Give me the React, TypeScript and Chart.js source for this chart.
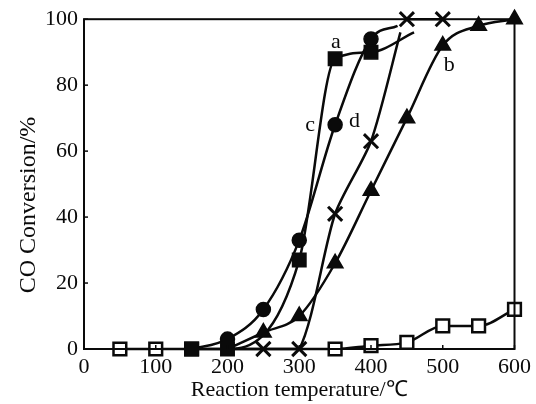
import React, { useEffect, useRef } from "react";
import { Chart, registerables } from "chart.js";

Chart.register(...registerables);

// filled squares (last point = unmarked curve end)
const filledSquareX = [150, 200, 300, 350, 400, 460];
const filledSquareY = [0, 0, 27, 88, 90, 96];
// filled circles
const circleX = [150, 200, 250, 300, 350, 400, 437];
const circleY = [0, 3, 12, 33, 68, 94, 98];
// crosses (null = break in the curve)
const crossX = [200, 250, 300, 350, 400, 441, 445, 450, 500];
const crossY: (number | null)[] = [0, 0, 0, 41, 63, 96, null, 100, 100];
// filled triangles
const triangleX = [200, 250, 300, 350, 400, 450, 500, 550, 600];
const triangleY = [0, 5, 10, 26, 48, 70, 92, 98, 100];
// open squares
const openSquareX = [50, 100, 150, 200, 250, 300, 350, 400, 450, 500, 550, 600];
const openSquareY = [0, 0, 0, 0, 0, 0, 0, 1, 2, 7, 7, 12];

// curve labels
const curveLabels = ["a", "b", "c", "d"];
const curveLabelX = [351, 509, 315, 377];
const curveLabelY = [93, 86, 68, 69];

const xTickValues = [0, 100, 200, 300, 400, 500, 600];
const yTickValues = [0, 20, 40, 60, 80, 100];

const xTitle = "Reaction temperature/\u2103";
const yTitle = "CO Conversion/%";

const INK = "#0a0a0a";
const SERIF = "'Liberation Serif', 'Times New Roman', serif";

function pts(xs: number[], ys: (number | null)[]) {
  return xs.map((x, i) => ({ x, y: ys[i] }));
}

export default function App() {
  const ref = useRef<HTMLCanvasElement | null>(null);

  useEffect(() => {
    document.body.style.margin = "0";
    const canvas = ref.current;
    if (!canvas) return;

    const framePlugin = {
      id: "frame",
      afterDraw(chart: any) {
        const { ctx, chartArea: a, scales } = chart;
        ctx.save();
        ctx.strokeStyle = INK;
        ctx.lineWidth = 2;
        ctx.strokeRect(a.left, a.top, a.right - a.left, a.bottom - a.top);
        // inward tick marks
        ctx.lineWidth = 1.5;
        yTickValues.forEach((v) => {
          const y = scales.y.getPixelForValue(v);
          ctx.beginPath();
          ctx.moveTo(a.left, y);
          ctx.lineTo(a.left + 4, y);
          ctx.stroke();
        });
        xTickValues.forEach((v) => {
          const x = scales.x.getPixelForValue(v);
          ctx.beginPath();
          ctx.moveTo(x, a.bottom);
          ctx.lineTo(x, a.bottom - 4);
          ctx.stroke();
        });
        // curve labels
        ctx.fillStyle = INK;
        ctx.font = `22px ${SERIF}`;
        ctx.textAlign = "center";
        ctx.textBaseline = "middle";
        curveLabels.forEach((t, i) => {
          ctx.fillText(
            t,
            scales.x.getPixelForValue(curveLabelX[i]),
            scales.y.getPixelForValue(curveLabelY[i])
          );
        });
        // y title
        ctx.translate(29, 205);
        ctx.rotate(-Math.PI / 2);
        ctx.font = `24px ${SERIF}`;
        ctx.fillText(yTitle, 0, 0);
        ctx.restore();
      },
    };

    const common = {
      showLine: true,
      borderColor: INK,
      backgroundColor: INK,
      pointBorderColor: INK,
      borderWidth: 2.5,
      pointBorderWidth: 1.5,
      cubicInterpolationMode: "monotone" as const,
      clip: false as any,
      spanGaps: false,
    };

    const chart = new Chart(canvas, {
      type: "scatter",
      data: {
        datasets: [
          {
            ...common,
            label: "squares",
            data: pts(filledSquareX, filledSquareY),
            pointStyle: "rect",
            pointRadius: filledSquareX.map((_, i) => (i === filledSquareX.length - 1 ? 0 : 9.5)),
          },
          {
            ...common,
            label: "circles",
            data: pts(circleX, circleY),
            pointStyle: "circle",
            pointRadius: circleX.map((_, i) => (i === 0 || i === circleX.length - 1 ? 0 : 7)),
          },
          {
            ...common,
            label: "crosses",
            data: pts(crossX, crossY),
            pointStyle: "crossRot",
            cubicInterpolationMode: "default",
            tension: 0.25,
            pointBorderWidth: 3,
            pointRadius: crossX.map((x) => (x === 200 || x === 441 || x === 445 ? 0 : 10)),
          },
          {
            ...common,
            label: "triangles",
            data: pts(triangleX, triangleY),
            pointStyle: "triangle",
            pointRadius: triangleX.map((x) => (x === 200 ? 0 : 9)),
          },
          {
            ...common,
            label: "open squares",
            data: pts(openSquareX, openSquareY),
            pointStyle: "rect",
            backgroundColor: "#ffffff",
            pointBackgroundColor: "#ffffff",
            pointBorderWidth: 2.5,
            pointRadius: openSquareX.map((x) => (x >= 200 && x <= 300 ? 0 : 9)),
          },
        ],
      },
      options: {
        animation: false,
        responsive: false,
        layout: { padding: { top: 19, right: 18, left: 0, bottom: 0 } },
        plugins: { legend: { display: false }, tooltip: { enabled: false } },
        scales: {
          x: {
            type: "linear",
            min: 0,
            max: 600,
            afterFit: (s: any) => {
              s.height = 55;
            },
            afterBuildTicks: (s: any) => {
              s.ticks = xTickValues.map((v) => ({ value: v }));
            },
            grid: { display: false, drawTicks: false },
            border: { display: false },
            ticks: {
              color: INK,
              padding: 5,
              font: { family: SERIF, size: 22 },
              maxRotation: 0,
            },
            title: {
              display: true,
              text: xTitle,
              color: INK,
              font: { family: SERIF, size: 22 },
              padding: { top: 0, bottom: 1 },
            },
          },
          y: {
            type: "linear",
            min: 0,
            max: 100,
            afterFit: (s: any) => {
              s.width = 84;
            },
            afterBuildTicks: (s: any) => {
              s.ticks = yTickValues.map((v) => ({ value: v }));
            },
            grid: { display: false, drawTicks: false },
            border: { display: false },
            ticks: {
              color: INK,
              padding: 6,
              font: { family: SERIF, size: 22 },
            },
          },
        },
      },
      plugins: [framePlugin],
    } as any);

    return () => chart.destroy();
  }, []);

  return (
    <div style={{ width: 536, height: 404 }}>
      <canvas ref={ref} width={536} height={404} style={{ display: "block" }} />
    </div>
  );
}
